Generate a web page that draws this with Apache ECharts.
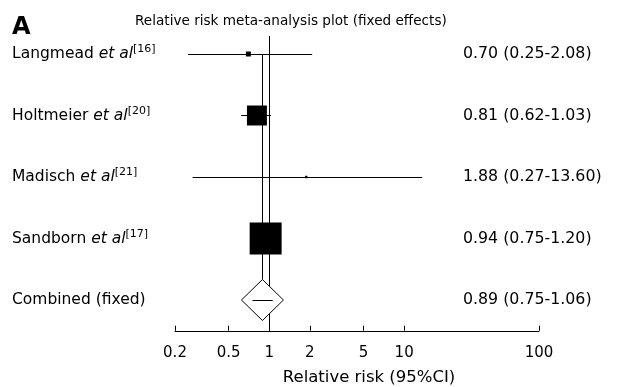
<!DOCTYPE html>
<html><head><meta charset="utf-8">
<script src="https://cdn.jsdelivr.net/npm/echarts@6/dist/echarts.min.js"></script>
<style>html,body{margin:0;padding:0;background:#fff}#c{width:622px;height:387px}</style>
</head><body><div id="c"></div>
<script>
const studies = ['Langmead', 'Holtmeier', 'Madisch', 'Sandborn', 'Combined (fixed)'];
const refs = ['16', '20', '21', '17', ''];
const pooled = [false, false, false, false, true];
const rr = [0.70, 0.81, 1.88, 0.94, 0.89];
const lower = [0.25, 0.62, 0.27, 0.75, 0.75];
const upper = [2.08, 1.03, 13.60, 1.20, 1.06];
const weights = [1.7, 27.5, 0.4, 70.4, 100];
const xTicks = [0.2, 0.5, 1, 2, 5, 10, 100];
const nullValue = 1;

const FONT = 'DejaVu Sans';
const chart = echarts.init(document.getElementById('c'), null, {renderer: 'canvas'});

const rightLabels = rr.map((v, i) => v.toFixed(2) + ' (' + lower[i].toFixed(2) + '-' + upper[i].toFixed(2) + ')');
const seriesData = rr.map((v, i) => [v, i, lower[i], upper[i], weights[i], pooled[i] ? 1 : 0]);

function px(v) { return Math.round(v - 0.5) + 0.5; }

chart.setOption({
  animation: false,
  title: [
    {text: 'A', left: 12, top: 16, padding: 0, textStyle: {fontFamily: FONT, fontSize: 24, fontWeight: 'bold', color: '#000'}},
    {text: 'Relative risk meta-analysis plot (fixed effects)', left: 135, top: 14.5, padding: 0,
     textStyle: {fontFamily: FONT, fontSize: 13.6, fontWeight: 'normal', color: '#000'}}
  ],
  grid: {left: 175, right: 83, top: 23.25, height: 307.5, containLabel: false, outerBoundsMode: 'none'},
  xAxis: {
    type: 'log', logBase: 10, min: 0.2, max: 100,
    axisLine: {show: true, onZero: false, lineStyle: {color: '#000', width: 1}},
    axisTick: {show: true, inside: true, length: 5, customValues: xTicks, lineStyle: {color: '#000'}},
    axisLabel: {customValues: xTicks, margin: 15, color: '#000', fontFamily: FONT, fontSize: 15,
      formatter: v => String(+v.toPrecision(6))},
    splitLine: {show: false}, minorTick: {show: false},
    name: 'Relative risk (95%CI)', nameLocation: 'middle', nameGap: 38,
    nameTextStyle: {fontFamily: FONT, fontSize: 16.5, color: '#000', padding: [0, 0, 0, 24]}
  },
  yAxis: [
    {
      type: 'category', data: studies, inverse: true, position: 'left',
      axisLine: {show: false}, axisTick: {show: false}, splitLine: {show: false},
      axisLabel: {
        align: 'left', margin: 163, color: '#000', fontFamily: FONT, fontSize: 15.5,
        formatter: (v, i) => refs[i] ? v + ' {it|et al}{sup|[' + refs[i] + ']}' : v,
        rich: {
          it: {fontStyle: 'italic', fontFamily: FONT, fontSize: 15.5, color: '#000'},
          sup: {fontFamily: FONT, fontSize: 11, color: '#000', padding: [0, 0, 9, 0]}
        }
      }
    },
    {
      type: 'category', data: rightLabels, inverse: true, position: 'right',
      axisLine: {show: false}, axisTick: {show: false}, splitLine: {show: false},
      axisLabel: {align: 'left', margin: -76, color: '#000', fontFamily: FONT, fontSize: 15.8}
    }
  ],
  series: [
    {
      type: 'custom', name: 'null line', data: [[nullValue, 0]], encode: {x: 0, y: 1}, clip: false,
      renderItem: (params, api) => {
        const top = api.coord([api.value(0), 0]);
        const cs = params.coordSys;
        const x = px(top[0]);
        return {type: 'line', shape: {x1: x, y1: top[1] - 18, x2: x, y2: cs.y + cs.height},
          style: {stroke: '#000', lineWidth: 1}};
      }
    },
    {
      type: 'custom', name: 'studies', data: seriesData, encode: {x: 0, y: 1}, clip: false,
      renderItem: (params, api) => {
        const est = api.value(0), idx = api.value(1), lo = api.value(2), hi = api.value(3), w = api.value(4), isPooled = api.value(5);
        const c = api.coord([est, idx]);
        const l = api.coord([lo, idx]);
        const h = api.coord([hi, idx]);
        const y = px(c[1]);
        const children = [];
        if (isPooled) {
          const hw = 21, hh = 20.5;
          const top = api.coord([est, 0]);
          const x = px(c[0]);
          children.push({type: 'line', shape: {x1: x, y1: px(top[1]), x2: x, y2: c[1] - hh}, style: {stroke: '#000', lineWidth: 1}});
          children.push({type: 'polygon', shape: {points: [[c[0], c[1] - hh], [c[0] + hw, c[1]], [c[0], c[1] + hh], [c[0] - hw, c[1]]]},
            style: {fill: '#fff', stroke: '#000', lineWidth: 1}});
          children.push({type: 'line', shape: {x1: l[0], y1: y, x2: h[0], y2: y}, style: {stroke: '#000', lineWidth: 1}});
        } else {
          const s = Math.sqrt(w) * 3.81;
          children.push({type: 'line', shape: {x1: l[0], y1: y, x2: h[0], y2: y}, style: {stroke: '#000', lineWidth: 1}});
          children.push({type: 'rect', shape: {x: c[0] - s / 2, y: c[1] - s / 2, width: s, height: s}, style: {fill: '#000'}});
        }
        return {type: 'group', children};
      }
    }
  ]
});
</script></body></html>
